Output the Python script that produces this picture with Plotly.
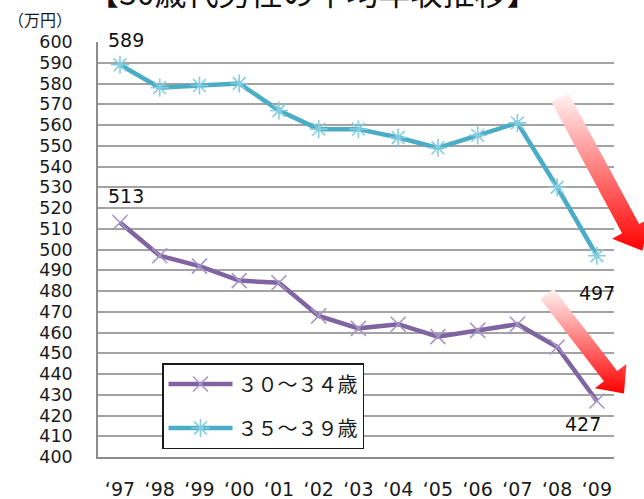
import numpy as np
import plotly.graph_objects as go

# ---------------- data ----------------
years = ["‘97", "‘98", "‘99", "‘00", "‘01", "‘02", "‘03", "‘04", "‘05", "‘06", "‘07", "‘08", "‘09"]
age_30_34 = [513, 497, 492, 485, 484, 468, 462, 464, 458, 461, 464, 453, 427]
age_35_39 = [589, 578, 579, 580, 567, 558, 558, 554, 549, 555, 561, 530, 497]
series_names = ["３０～３４歳", "３５～３９歳"]
y_ticks = list(range(400, 601, 10))
title_text = "【30歳代男性の平均年収推移】"
unit_text = "（万円）"

# ---------------- layout helpers ----------------
W, H = 644, 499
PL, PR, PT, PB = 98, 614, 42, 457


def fx(p):
    return p / W


def fy(p):
    return (H - p) / H


PURPLE = "#8064A2"
TEAL = "#4BACC6"
GRID = "#a3a3a3"
AXIS = "#8c8c8c"
TXT = "#1a1a1a"
NUM_FONT = "DejaVu Sans"
JP_FONT = "Noto Sans CJK JP"

fig = go.Figure()

fig.add_trace(go.Scatter(
    x=years, y=age_30_34, name=series_names[0], mode="lines+markers",
    line=dict(color=PURPLE, width=4.5),
    marker=dict(symbol="x-thin-open", size=15, color="#a596c4",
                line=dict(width=1.6, color="#a596c4")),
    legendgroup="a", hoverinfo="x+y"))

fig.add_trace(go.Scatter(
    x=years, y=age_35_39, name=series_names[1], mode="lines+markers",
    line=dict(color=TEAL, width=4.5),
    marker=dict(symbol="asterisk-open", size=15, color="#82cde0",
                line=dict(width=1.6, color="#82cde0")),
    legendgroup="b", hoverinfo="x+y"))


# ---------------- decorative gradient arrows (pixel overlay) ----------------
def arrow_poly(cx, cy, dx, dy, length, shaft_hw, head_hw, head_len):
    d = np.array([dx, dy], dtype=float)
    d /= np.linalg.norm(d)
    n = np.array([d[1], -d[0]])
    c = np.array([cx, cy], dtype=float)
    base = length - head_len
    pts = [c - shaft_hw * n, c + shaft_hw * n,
           c + shaft_hw * n + base * d, c + head_hw * n + base * d,
           c + length * d,
           c - head_hw * n + base * d, c - shaft_hw * n + base * d,
           c - shaft_hw * n]
    pts = np.array(pts)
    return pts[:, 0], pts[:, 1]


arrows = [
    dict(cx=560, cy=97.5, dx=0.474, dy=0.881, length=174, shaft_hw=9.7, head_hw=21, head_len=25),
    dict(cx=547, cy=293.8, dx=0.61, dy=0.79, length=126, shaft_hw=8.4, head_hw=20, head_len=22),
]
for a in arrows:
    ax_, ay_ = arrow_poly(**a)
    fig.add_trace(go.Scatter(
        x=ax_, y=ay_, xaxis="x2", yaxis="y2", mode="lines", fill="toself",
        line=dict(width=0, color="rgba(0,0,0,0)"),
        fillgradient=dict(type="vertical",
                          colorscale=[[0, "#ff0000"], [0.5, "#ff7a7a"], [1, "#fff4f4"]]),
        showlegend=False, hoverinfo="skip"))

# ---------------- annotations ----------------
annotations = [
    dict(text=title_text, x=fx(313), y=fy(-9), xref="paper", yref="paper",
         showarrow=False, xanchor="center", yanchor="middle",
         font=dict(family=JP_FONT, size=32, color="#111111")),
    dict(text=unit_text, x=fx(40), y=fy(19), xref="paper", yref="paper",
         showarrow=False, xanchor="center", yanchor="middle",
         font=dict(family=JP_FONT, size=16, color=TXT)),
]
# (category index, value, x shift px, y shift px)
label_specs = [
    (0, age_35_39[0], 6, 25),
    (0, age_30_34[0], 6, 26.5),
    (len(years) - 1, age_35_39[-1], 0.5, -37),
    (len(years) - 1, age_30_34[-1], -14, -23),
]
for xi, val, xs, ys in label_specs:
    annotations.append(dict(
        text=str(val), x=xi, y=val, xref="x", yref="y",
        xshift=xs, yshift=ys,
        showarrow=False, xanchor="center", yanchor="middle",
        font=dict(family=NUM_FONT, size=19, color="#111111")))

fig.update_layout(
    width=W, height=H,
    margin=dict(l=0, r=0, t=0, b=0),
    paper_bgcolor="white", plot_bgcolor="rgba(0,0,0,0)",
    showlegend=True,
    legend=dict(x=fx(162), y=fy(363), xanchor="left", yanchor="top",
                bgcolor="white", bordercolor="#1a1a1a", borderwidth=1.5,
                font=dict(family=JP_FONT, size=20, color=TXT),
                tracegroupgap=15, traceorder="grouped", itemwidth=64),
    xaxis=dict(type="category", range=[-0.553, 12.43],
               domain=[fx(PL), fx(PR)], anchor="y",
               showgrid=False, zeroline=False,
               showline=True, linecolor=AXIS, linewidth=1.5,
               ticks="", ticklabelstandoff=14, automargin=False,
               tickfont=dict(family=NUM_FONT, size=19, color=TXT)),
    yaxis=dict(range=[400, 600], tickvals=y_ticks,
               domain=[fy(PB), fy(PT)], anchor="x",
               showgrid=True, gridcolor=GRID, gridwidth=1.6, zeroline=False,
               showline=True, linecolor=AXIS, linewidth=1.5,
               ticks="", ticklabelstandoff=20, automargin=False,
               tickfont=dict(family=NUM_FONT, size=17.5, color=TXT)),
    xaxis2=dict(domain=[0, 1], range=[0, W], visible=False, anchor="y2", fixedrange=True),
    yaxis2=dict(domain=[0, 1], range=[H, 0], visible=False, anchor="x2", fixedrange=True),
    annotations=annotations,
)

fig.write_html("out.html",
               config={"displayModeBar": False},
               post_script="document.body.style.margin='0';document.body.style.padding='0';")
